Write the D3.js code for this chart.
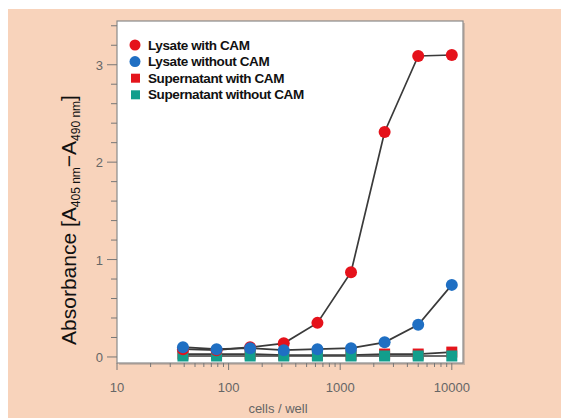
<!DOCTYPE html>
<html>
<head>
<meta charset="utf-8">
<script src="https://cdn.jsdelivr.net/npm/d3@7"></script>
<style>
  body { margin: 0; background: #fff; }
  svg { display: block; }
</style>
</head>
<body>
<svg id="chart" width="561" height="418"></svg>
<script>
// cells per well (2-fold dilution from 10000)
var cells = [39, 78, 156, 312, 625, 1250, 2500, 5000, 10000];
var lysateWithCAM = [0.08, 0.07, 0.10, 0.14, 0.35, 0.87, 2.31, 3.09, 3.10];
var lysateWithoutCAM = [0.10, 0.08, 0.09, 0.07, 0.08, 0.09, 0.15, 0.33, 0.74];
var supWithCAM = [0.03, 0.03, 0.03, 0.02, 0.02, 0.02, 0.03, 0.03, 0.05];
var supWithoutCAM = [0.01, 0.01, 0.01, 0.01, 0.01, 0.01, 0.01, 0.01, 0.01];
var seriesNames = ["Lysate with CAM", "Lysate without CAM", "Supernatant with CAM", "Supernatant without CAM"];
var xTickLabels = [10, 100, 1000, 10000];
var yTickLabels = [0, 1, 2, 3];

var svg = d3.select("#chart");

var pLeft = 117, pRight = 463, pTop = 21, pBottom = 363;

var x = d3.scaleLog().domain([10, 12600]).range([pLeft, pRight]);
var y = d3.scaleLinear().domain([-0.062, 3.449]).range([pBottom, pTop]);

// peach background
svg.append("rect").attr("x", 8).attr("y", 9).attr("width", 553).attr("height", 409)
    .attr("fill", "#f8d3bb");

// frame shadow + plot area
svg.append("rect").attr("x", pLeft + 2).attr("y", pTop + 2)
    .attr("width", pRight - pLeft).attr("height", pBottom - pTop)
    .attr("fill", "#b9a89c").attr("opacity", 0.7);
svg.append("rect").attr("x", pLeft).attr("y", pTop)
    .attr("width", pRight - pLeft).attr("height", pBottom - pTop)
    .attr("fill", "#fff").attr("stroke", "#8a8a8a").attr("stroke-width", 1.2);

var tickColor = "#777";
var labelColor = "#666";

// y ticks
var yMinor = d3.range(0, 3.41, 0.2);
var yAxis = svg.append("g").attr("transform", "translate(" + pLeft + ",0)");
yAxis.selectAll("line").data(yMinor).enter().append("line")
    .attr("x1", function(d) { return Math.abs(d - Math.round(d)) < 0.01 ? -10 : -6; })
    .attr("x2", 0)
    .attr("y1", function(d) { return y(d); }).attr("y2", function(d) { return y(d); })
    .attr("stroke", tickColor).attr("stroke-width", 1);
yAxis.selectAll("text").data(yTickLabels).enter().append("text")
    .attr("x", -14).attr("y", function(d) { return y(d) + 5; })
    .attr("text-anchor", "end")
    .attr("font-family", "Liberation Sans, Arial, sans-serif").attr("font-size", 13)
    .attr("fill", labelColor).text(function(d) { return d; });

// x ticks (log)
var xTicks = [];
[10, 100, 1000, 10000].forEach(function(p) {
    for (var k = 1; k < 10; k++) if (p * k <= 12600) xTicks.push(p * k);
});
var xAxis = svg.append("g").attr("transform", "translate(0," + pBottom + ")");
xAxis.selectAll("line").data(xTicks).enter().append("line")
    .attr("x1", function(d) { return x(d); }).attr("x2", function(d) { return x(d); })
    .attr("y1", 0)
    .attr("y2", function(d) { return xTickLabels.indexOf(d) >= 0 ? 7 : 4; })
    .attr("stroke", tickColor).attr("stroke-width", 1);
xAxis.selectAll("text").data(xTickLabels).enter().append("text")
    .attr("x", function(d) { return x(d); }).attr("y", 29)
    .attr("text-anchor", "middle")
    .attr("font-family", "Liberation Sans, Arial, sans-serif").attr("font-size", 13)
    .attr("fill", labelColor).text(function(d) { return d; });

svg.append("text").attr("x", 278).attr("y", 413)
    .attr("text-anchor", "middle")
    .attr("font-family", "Liberation Sans, Arial, sans-serif").attr("font-size", 13)
    .attr("fill", labelColor).text("cells / well");

// y title with subscripts
var yt = svg.append("text")
    .attr("transform", "translate(76,220) rotate(-90)")
    .attr("text-anchor", "middle")
    .attr("font-family", "Liberation Sans, Arial, sans-serif").attr("font-size", 21)
    .attr("fill", "#111");
yt.append("tspan").text("Absorbance [A");
yt.append("tspan").attr("font-size", 12).attr("dy", 4).text("405 nm");
yt.append("tspan").attr("dy", -4).text("\u2212A");
yt.append("tspan").attr("font-size", 12).attr("dy", 4).text("490 nm");
yt.append("tspan").attr("dy", -4).text("]");

// series
var series = [
    { name: seriesNames[2], values: supWithCAM, color: "#e4151c", shape: "square" },
    { name: seriesNames[3], values: supWithoutCAM, color: "#129e8c", shape: "square" },
    { name: seriesNames[0], values: lysateWithCAM, color: "#e5121b", shape: "circle" },
    { name: seriesNames[1], values: lysateWithoutCAM, color: "#1f6fc3", shape: "circle" }
];

var line = d3.line()
    .x(function(d) { return x(d[0]); })
    .y(function(d) { return y(d[1]); });

series.forEach(function(s) {
    var pts = cells.map(function(c, i) { return [c, s.values[i]]; });
    svg.append("path").datum(pts).attr("d", line)
        .attr("fill", "none").attr("stroke", "#3a3a3a").attr("stroke-width", 1.7);
});

series.forEach(function(s) {
    var pts = cells.map(function(c, i) { return [c, s.values[i]]; });
    if (s.shape == "circle") {
        svg.selectAll(null).data(pts).enter().append("circle")
            .attr("cx", function(d) { return x(d[0]); })
            .attr("cy", function(d) { return y(d[1]); })
            .attr("r", 6).attr("fill", s.color);
    } else {
        svg.selectAll(null).data(pts).enter().append("rect")
            .attr("x", function(d) { return x(d[0]) - 5.5; })
            .attr("y", function(d) { return y(d[1]) - 5.5; })
            .attr("width", 11).attr("height", 11).attr("fill", s.color);
    }
});

// legend
var legend = [
    { name: seriesNames[0], color: "#e5121b", shape: "circle" },
    { name: seriesNames[1], color: "#1f6fc3", shape: "circle" },
    { name: seriesNames[2], color: "#e4151c", shape: "square" },
    { name: seriesNames[3], color: "#129e8c", shape: "square" }
];
var lg = svg.append("g");
legend.forEach(function(l, i) {
    var cy = 45 + i * 16.6;
    if (l.shape == "circle")
        lg.append("circle").attr("cx", 135).attr("cy", cy).attr("r", 5.5).attr("fill", l.color);
    else
        lg.append("rect").attr("x", 131).attr("y", cy - 4.5).attr("width", 9).attr("height", 9).attr("fill", l.color);
    lg.append("text").attr("x", 148).attr("y", cy + 4.5)
        .attr("font-family", "Liberation Sans, Arial, sans-serif").attr("font-size", 13.5)
        .attr("font-weight", "bold").attr("letter-spacing", -0.4)
        .attr("fill", "#111").text(l.name);
});
</script>
</body>
</html>
